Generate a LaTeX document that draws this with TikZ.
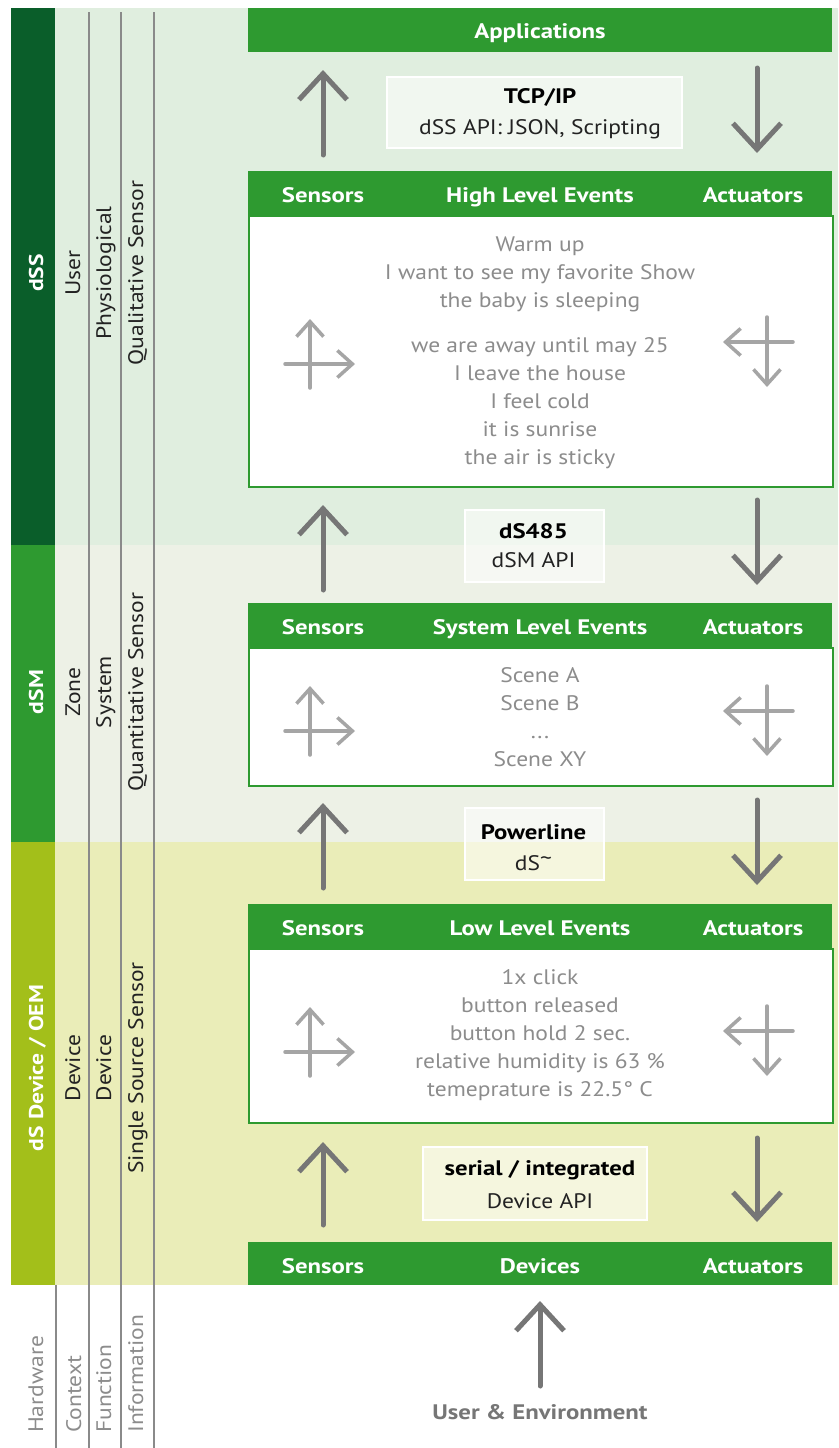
\documentclass[tikz,border=0pt]{standalone}
\usepackage{fontspec}
\setmainfont{PT Sans}[FakeStretch=1.12, BoldFeatures={FakeStretch=1.18}]
\usetikzlibrary{arrows.meta}
\definecolor{dkgreen}{HTML}{0A5E2A}
\definecolor{hgreen}{HTML}{2E9A30}
\definecolor{lime}{HTML}{A3BF1A}
\definecolor{bgA}{HTML}{E0EEDF}
\definecolor{bgB}{HTML}{EDF1E6}
\definecolor{bgC}{HTML}{EAEDB8}
\definecolor{arrowgray}{HTML}{767676}
\definecolor{icongray}{HTML}{A5A5A5}
\definecolor{textgray}{HTML}{8C8C8C}
\definecolor{linegray}{HTML}{8A8A8A}
\definecolor{labeltext}{HTML}{222222}
\tikzset{
  vline/.style={draw=linegray, line width=2pt},
  bigarrow/.style={draw=arrowgray, line width=5pt, line cap=round, -{Straight Barb[length=26pt,width=48pt]}},
  iconarrow/.style={draw=icongray, line width=3.5pt, line cap=round, -{Straight Barb[length=15pt,width=27pt]}},
  hdr/.style={fill=hgreen, draw=none, inner sep=0pt, minimum width=584pt, minimum height=44pt, anchor=north west},
  bodybox/.style={fill=white, draw=hgreen, line width=1.5pt, inner sep=0pt, minimum width=584pt, anchor=north west},
  hdrtxt/.style={text=white, font=\fontsize{21}{24}\selectfont\bfseries, anchor=base, inner sep=0pt},
  evtxt/.style={text=textgray, font=\fontsize{21}{28}\selectfont, align=center, inner sep=0pt},
  protobox/.style={fill=white, fill opacity=0.55, draw=white, draw opacity=1, line width=2pt, inner sep=0pt, anchor=north west},
  protobold/.style={text=black, font=\fontsize{21}{24}\selectfont\bfseries, anchor=base, inner sep=0pt},
  prototxt/.style={text=labeltext, font=\fontsize{21}{24}\selectfont, anchor=base, inner sep=0pt},
  bandlbl/.style={rotate=90, anchor=base, text=white, font=\fontsize{20}{24}\selectfont\bfseries, inner sep=0pt},
  catlbl/.style={rotate=90, anchor=base, text=labeltext, font=\fontsize{21}{24}\selectfont, inner sep=0pt},
  footlbl/.style={rotate=90, anchor=base west, text=textgray, font=\fontsize{21}{24}\selectfont, inner sep=0pt},
  pics/sensicon/.style={code={
    \draw[iconarrow] (0,24) -- (0,-45);
    \draw[iconarrow] (-25,0) -- (45,0);
  }},
  pics/acticon/.style={code={
    \draw[iconarrow] (0,-25) -- (0,45);
    \draw[iconarrow] (26,0) -- (-44,0);
  }},
}
\begin{document}
\begin{tikzpicture}[x=1pt,y=-1pt]
\useasboundingbox (0,0) rectangle (838,1448);
\fill[white] (0,0) rectangle (838,1448);
% bands
\fill[bgA] (55,8) rectangle (838,545);
\fill[bgB] (55,545) rectangle (838,842);
\fill[bgC] (55,842) rectangle (838,1285);
\fill[dkgreen] (11,8) rectangle (55,545);
\fill[hgreen] (11,545) rectangle (55,842);
\fill[lime] (11,842) rectangle (55,1285);
% column lines
\draw[vline] (88.5,12) -- (88.5,1448);
\draw[vline] (121,12) -- (121,1448);
\draw[vline] (154,12) -- (154,1448);
\draw[vline] (56,1285) -- (56,1448);
% band labels
\node[bandlbl] (lss) at (43,273) {dSS};
\node[catlbl] (lus) at (80,273) {User};
\node[catlbl] (lph) at (111,273) {Physiological};
\node[catlbl] (lql) at (143,273) {Qualitative Sensor};
\node[bandlbl] (lsm) at (43,692) {dSM};
\node[catlbl] (lzo) at (80,692) {Zone};
\node[catlbl] (lsy) at (111,692) {System};
\node[catlbl] (lqn) at (143,692) {Quantitative Sensor};
\node[bandlbl] (ldv) at (43,1068) {dS Device / OEM};
\node[catlbl] (ld1) at (80,1068) {Device};
\node[catlbl] (ld2) at (111,1068) {Device};
\node[catlbl] (lsi) at (143,1068) {Single Source Sensor};
% footer labels
\node[footlbl] (fhw) at (43,1433) {Hardware};
\node[footlbl] (fco) at (81,1433) {Context};
\node[footlbl] (ffu) at (111,1433) {Function};
\node[footlbl] (fin) at (143,1433) {Information};
% applications
\node[hdr] (apps) at (248,8) {};
\node[hdrtxt] (appst) at (540,38.5) {Applications};
% protocol 1
\node[protobox, minimum width=295pt, minimum height=71pt] (p1) at (386,76) {};
\node[protobold] (p1a) at (540,103) {TCP/IP};
\node[prototxt] (p1b) at (540,134) {dSS API: JSON, Scripting};
% box 1
\node[bodybox, minimum height=271pt] (b1) at (248,215) {};
\node[hdr] (h1) at (248,171) {};
\node[hdrtxt] (h1s) at (323,202.5) {Sensors};
\node[hdrtxt] (h1e) at (540,202.5) {High Level Events};
\node[hdrtxt] (h1a) at (753,202.5) {Actuators};
\node[evtxt] (e1a) at (540,274) {Warm up\\I want to see my favorite Show\\the baby is sleeping};
\node[evtxt] (e1b) at (540,403) {we are away until may 25\\I leave the house\\I feel cold\\it is sunrise\\the air is sticky};
\pic at (310,364) {sensicon};
\pic at (767,342) {acticon};
% protocol 2
\node[protobox, minimum width=139pt, minimum height=72pt] (p2) at (464,509) {};
\node[protobold] (p2a) at (533.5,538) {dS485};
\node[prototxt] (p2b) at (533.5,567) {dSM API};
% box 2
\node[bodybox, minimum height=138pt] (b2) at (248,647) {};
\node[hdr] (h2) at (248,603) {};
\node[hdrtxt] (h2s) at (323,634.5) {Sensors};
\node[hdrtxt] (h2e) at (540,634.5) {System Level Events};
\node[hdrtxt] (h2a) at (753,634.5) {Actuators};
\node[evtxt] (e2) at (540,717) {Scene A\\Scene B\\...\\Scene XY};
\pic at (310,731) {sensicon};
\pic at (767,711) {acticon};
% protocol 3
\node[protobox, minimum width=139pt, minimum height=72pt] (p3) at (464,807) {};
\node[protobold] (p3a) at (533.5,839) {Powerline};
\node[prototxt] (p3b) at (533.5,870) {dS\raisebox{5pt}{\textasciitilde}};
% box 3
\node[bodybox, minimum height=174pt] (b3) at (248,948) {};
\node[hdr] (h3) at (248,904) {};
\node[hdrtxt] (h3s) at (323,935.5) {Sensors};
\node[hdrtxt] (h3e) at (540,935.5) {Low Level Events};
\node[hdrtxt] (h3a) at (753,935.5) {Actuators};
\node[evtxt] (e3) at (540,1035) {1x click\\button released\\button hold 2 sec.\\relative humidity is 63 \%\\temeprature is 22.5° C};
\pic at (310,1052) {sensicon};
\pic at (767,1031) {acticon};
% protocol 4
\node[protobox, minimum width=224pt, minimum height=73pt] (p4) at (422,1146) {};
\node[protobold] (p4a) at (540,1175) {serial / integrated};
\node[prototxt] (p4b) at (540,1208) {Device API};
% bottom bar
\node[hdr, minimum height=43pt] (h4) at (248,1242) {};
\node[hdrtxt] (h4s) at (323,1273) {Sensors};
\node[hdrtxt] (h4e) at (540,1273) {Devices};
\node[hdrtxt] (h4a) at (753,1273) {Actuators};
% big arrows
\coordinate (u1s) at (323,155); \coordinate (u1e) at (323,70);
\coordinate (d1s) at (757,68);  \coordinate (d1e) at (757,153);
\coordinate (u2s) at (323,590); \coordinate (u2e) at (323,505);
\coordinate (d2s) at (757,500); \coordinate (d2e) at (757,585);
\coordinate (u3s) at (323,888); \coordinate (u3e) at (323,803);
\coordinate (d3s) at (757,800); \coordinate (d3e) at (757,885);
\coordinate (u4s) at (323,1225); \coordinate (u4e) at (323,1142);
\coordinate (d4s) at (757,1138); \coordinate (d4e) at (757,1222);
\coordinate (u5s) at (540,1386); \coordinate (u5e) at (540,1301);
\draw[bigarrow] (u1s) -- (u1e);
\draw[bigarrow] (d1s) -- (d1e);
\draw[bigarrow] (u2s) -- (u2e);
\draw[bigarrow] (d2s) -- (d2e);
\draw[bigarrow] (u3s) -- (u3e);
\draw[bigarrow] (d3s) -- (d3e);
\draw[bigarrow] (u4s) -- (u4e);
\draw[bigarrow] (d4s) -- (d4e);
\draw[bigarrow] (u5s) -- (u5e);
\node[text=arrowgray, font=\fontsize{21}{24}\selectfont\bfseries, anchor=base, inner sep=0pt] (ue) at (540,1419) {User \& Environment};
\end{tikzpicture}
\end{document}
